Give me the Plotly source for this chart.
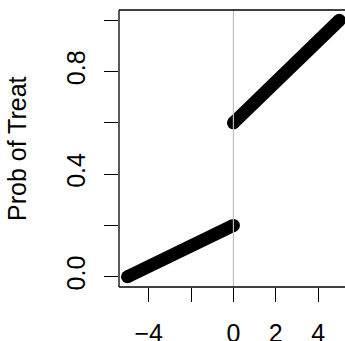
import plotly.graph_objects as go

# Data: two linear segments of treatment probability around cutoff 0
x_left = [-5, 0]
p_left = [0.0, 0.2]
x_right = [0, 5]
p_right = [0.6, 1.0]
cutoff = 0

x_ticks = [-4, -2, 0, 2, 4]
x_ticktext = ["\u22124", "", "0", "2", "4"]
y_ticks = [0.0, 0.2, 0.4, 0.6, 0.8, 1.0]
y_ticktext = ["0.0", "", "0.4", "", "0.8", ""]

FONT = "Liberation Sans, Arial, Helvetica, sans-serif"

fig = go.Figure()
for xs, ys in [(x_left, p_left), (x_right, p_right)]:
    fig.add_trace(go.Scatter(
        x=xs, y=ys, mode="lines+markers",
        line=dict(color="black", width=13),
        marker=dict(color="black", size=13, line=dict(width=0)),
        showlegend=False, hoverinfo="skip", cliponaxis=False,
    ))

L, T, B = 119, 10, 54
W, H = 345, 341

fig.update_layout(
    template="none",
    width=W, height=H,
    margin=dict(l=L, r=0, t=T, b=B, pad=0, autoexpand=False),
    plot_bgcolor="white", paper_bgcolor="white",
    font=dict(family=FONT, color="black"),
    xaxis=dict(
        range=[-5.4, 5.266], showgrid=False, zeroline=False, showline=False,
        automargin=False,
        tickmode="array", tickvals=x_ticks, ticktext=x_ticktext,
        ticks="outside", ticklen=14, tickwidth=1, tickcolor="black",
        ticklabelstandoff=10,
        tickfont=dict(size=25, family=FONT, color="black"),
    ),
    yaxis=dict(
        range=[-0.04, 1.04], showgrid=False, zeroline=False, showline=False,
        automargin=False,
        tickmode="array", tickvals=y_ticks, ticktext=y_ticktext,
        ticks="outside", ticklen=14, tickwidth=1, tickcolor="black",
        tickangle=-90, ticklabelstandoff=9,
        tickfont=dict(size=25, family=FONT, color="black"),
    ),
    shapes=[
        dict(type="line", xref="x", yref="paper", x0=cutoff, x1=cutoff, y0=0, y1=1,
             line=dict(color="#BEBEBE", width=1.2), layer="above"),
        dict(type="line", xref="paper", yref="paper", x0=0, x1=0, y0=0, y1=1,
             line=dict(color="black", width=1.3), layer="above"),
        dict(type="line", xref="paper", yref="paper", x0=0, x1=1.05, y0=1, y1=1,
             line=dict(color="black", width=1.3), layer="above"),
        dict(type="line", xref="paper", yref="paper", x0=0, x1=1.05, y0=0, y1=0,
             line=dict(color="black", width=1.3), layer="above"),
    ],
    annotations=[
        dict(text="Prob of Treat", xref="paper", yref="paper",
             x=(17 - L) / (W - L), y=(H - B - 149) / (H - B - T),
             xanchor="center", yanchor="middle", textangle=-90, showarrow=False,
             font=dict(size=25, family=FONT, color="black")),
    ],
)

fig.write_html("out.html", config={"displayModeBar": False},
               post_script="document.body.style.margin='0';document.body.style.overflow='hidden';")
